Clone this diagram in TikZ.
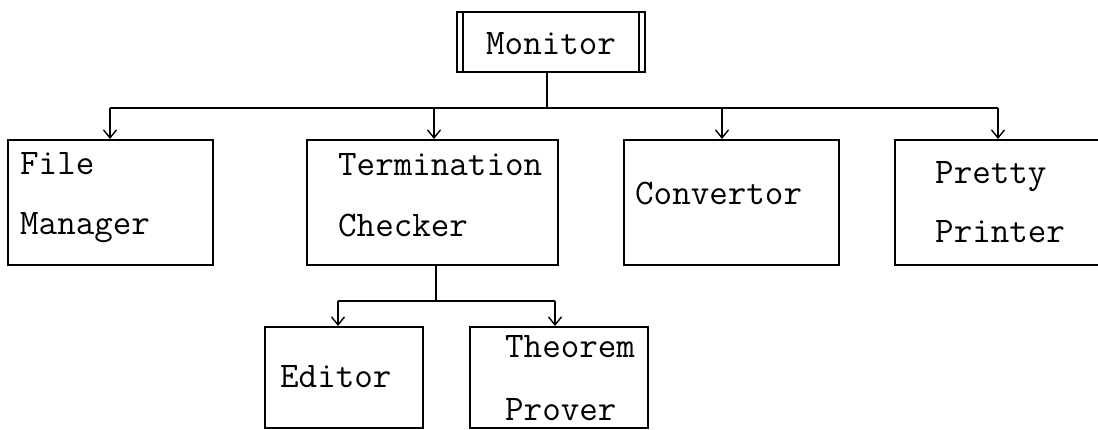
\documentclass[tikz,border=0pt]{standalone}
\usetikzlibrary{arrows.meta}
\begin{document}
\begin{tikzpicture}[x=1pt,y=-1pt,
  box/.style={draw, line width=2pt, rectangle, inner sep=0pt},
  lbl/.style={anchor=base west, inner sep=0pt, font=\ttfamily\fontsize{36}{42}\selectfont},
  wire/.style={line width=1.6pt},
  arr/.style={line width=1.6pt, -{Straight Barb[length=8pt,width=13pt,line width=1.4pt]}}]
\clip (0,0) rectangle (1098,430);
\fill[white] (0,0) rectangle (1098,430);
% boxes
\node[box, minimum width=188pt, minimum height=60pt] (mon) at (551,42) {};
\draw[line width=1.6pt] ([xshift=7pt]mon.north west) -- ([xshift=7pt]mon.south west);
\draw[line width=1.6pt] ([xshift=-7pt]mon.north east) -- ([xshift=-7pt]mon.south east);
\node[box, minimum width=205pt, minimum height=125pt] (fm) at (110.5,202.5) {};
\node[box, minimum width=251pt, minimum height=125pt] (tc) at (432,202.5) {};
\node[box, minimum width=215pt, minimum height=125pt] (cv) at (731,202.5) {};
\node[box, minimum width=225pt, minimum height=125pt] (pp) at (1007.5,202.5) {};
\node[box, minimum width=158pt, minimum height=101pt] (ed) at (344,377.5) {};
\node[box, minimum width=178pt, minimum height=101pt] (th) at (559,377.5) {};
% labels
\node[lbl] (tmon) at (486,55) {Monitor};
\node[lbl] (tfm1) at (20,175) {File};
\node[lbl] (tfm2) at (20,235) {Manager};
\node[lbl] (ttc1) at (338,176) {Termination};
\node[lbl] (ttc2) at (338,237) {Checker};
\node[lbl] (tcv) at (635,205) {Convertor};
\node[lbl] (tpp1) at (935,184) {Pretty};
\node[lbl] (tpp2) at (935,243) {Printer};
\node[lbl] (ted) at (280,387) {Editor};
\node[lbl] (tth1) at (505,358) {Theorem};
\node[lbl] (tth2) at (505,420) {Prover};
% upper bus
\coordinate (b1) at (547,108);
\coordinate (a1) at (110,108);
\coordinate (a2) at (434,108);
\coordinate (a3) at (722,108);
\coordinate (a4) at (998,108);
\draw[line width=2.4pt] (mon.south -| b1) -- (b1);
\draw[wire] (a1) -- (a4);
\draw[arr] (a1) -- (a1 |- fm.north);
\draw[arr] (a2) -- (a2 |- tc.north);
\draw[arr] (a3) -- (a3 |- cv.north);
\draw[arr] (a4) -- (a4 |- pp.north);
% lower bus
\coordinate (b2) at (436,301);
\coordinate (c1) at (338,301);
\coordinate (c2) at (555,301);
\draw[line width=2.4pt] (tc.south -| b2) -- (b2);
\draw[wire] (c1) -- (c2);
\draw[arr] (c1) -- (c1 |- ed.north);
\draw[arr] (c2) -- (c2 |- th.north);
\end{tikzpicture}
\end{document}
